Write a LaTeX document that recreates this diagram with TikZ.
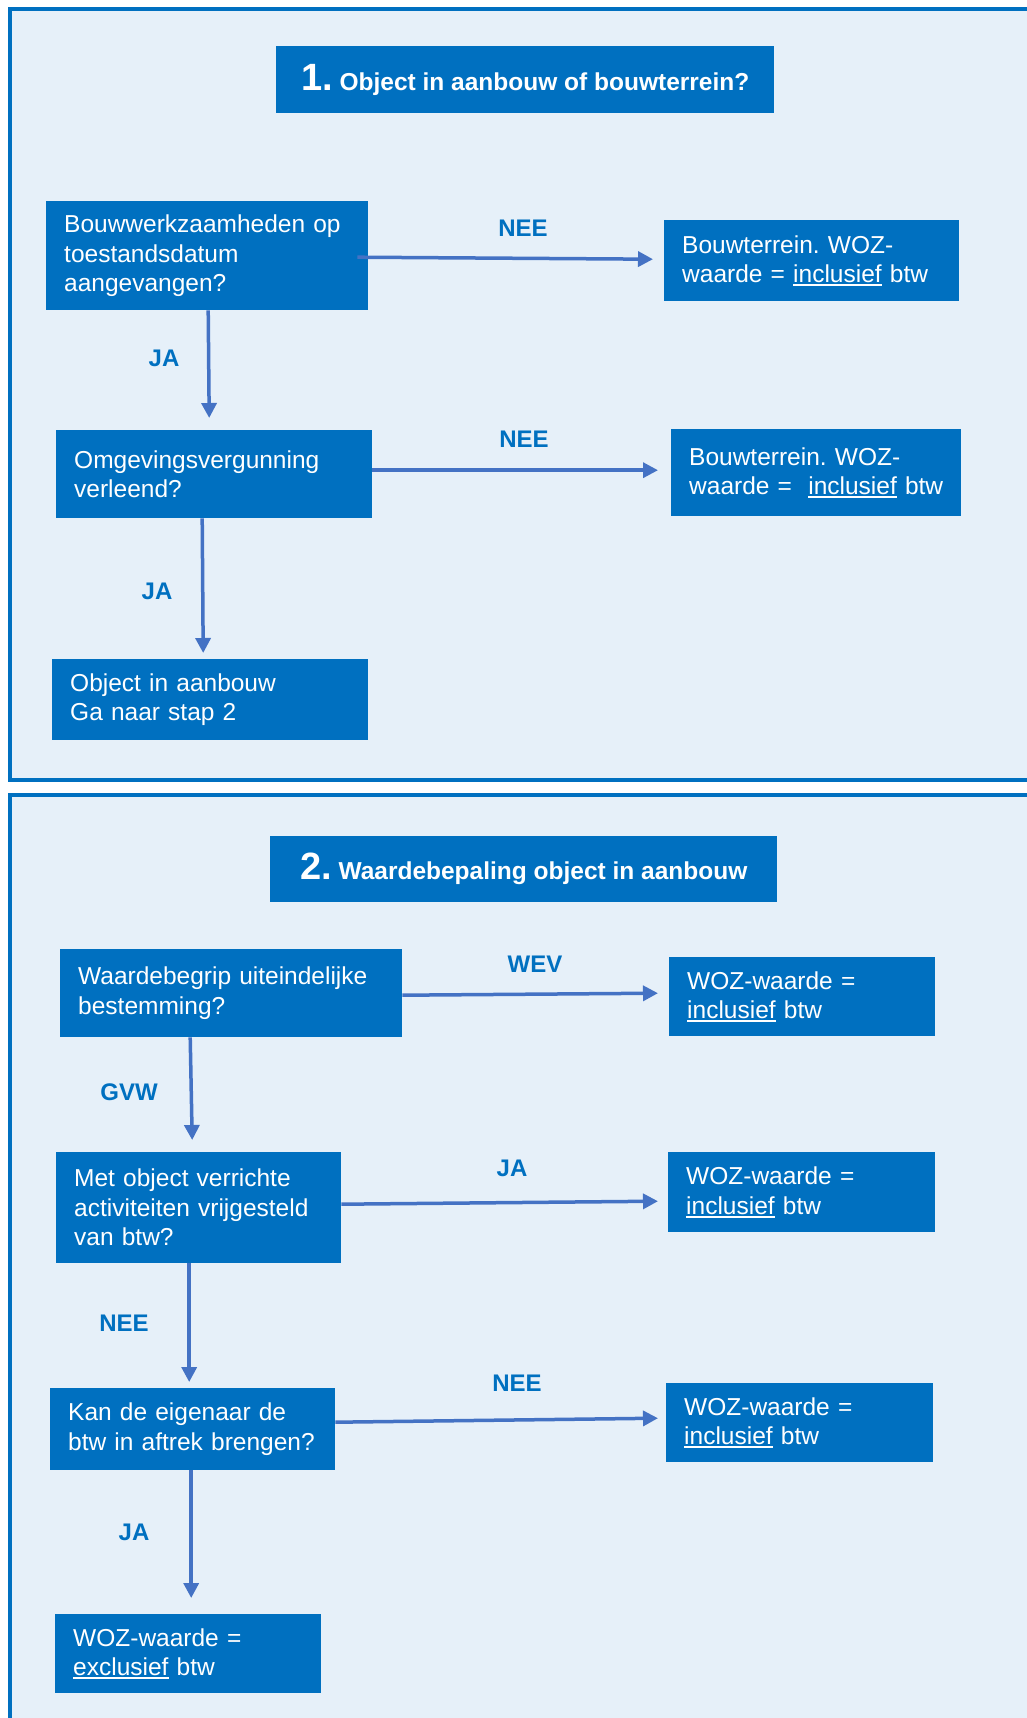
\documentclass[tikz,border=0pt]{standalone}
\usepackage{fontspec}
\setmainfont{Liberation Sans}
\frenchspacing
\usetikzlibrary{arrows.meta,calc}
\definecolor{boxblue}{HTML}{0070C0}
\definecolor{panelbg}{HTML}{E6F0F9}
\definecolor{arrowblue}{HTML}{4472C4}
\definecolor{labelblue}{HTML}{0070C0}
\newsavebox\ulbox
\newcommand\ulin[1]{\leavevmode\sbox\ulbox{#1}\rlap{\rule[-3.5pt]{\wd\ulbox}{1.8pt}}\usebox\ulbox}
\tikzset{
  panel/.style={fill=panelbg,draw=boxblue,line width=4pt},
  stepbox/.style={fill=boxblue,draw=none,text=white,anchor=north west,
    inner xsep=18pt,inner ysep=0pt,align=left,
    font=\fontsize{24.5}{29.5}\selectfont},
  titlebox/.style={fill=boxblue,draw=none,text=white,anchor=north west,
    inner sep=0pt,align=center,font=\fontsize{24.5}{29.5}\selectfont\bfseries},
  lab/.style={text=labelblue,inner sep=0pt,font=\fontsize{24}{28}\selectfont\bfseries},
  arr/.style={draw=arrowblue,line width=3.5pt,-{Triangle[length=15pt,width=15pt]}},
}
\begin{document}
\begin{tikzpicture}[x=1pt,y=-1pt]
\useasboundingbox (0,0) rectangle (1026,1718);
\fill[white] (0,0) rectangle (1026,1718);
% panels
\path[panel] (10,9) rectangle (1040,779.5);
\path[panel] (10,794.5) rectangle (1040,1740);
% titles
\node[titlebox,minimum width=498pt,minimum height=67pt] (t1) at (276,46)
  {{\fontsize{38}{40}\selectfont 1.} Object in aanbouw of bouwterrein?};
\node[titlebox,minimum width=507pt,minimum height=66pt] (t2) at (270,836)
  {{\fontsize{38}{40}\selectfont 2.} Waardebepaling object in aanbouw};
% step 1 boxes
\node[stepbox,text width=286pt,minimum height=109pt] (a) at (46,201)
  {Bouwwerkzaamheden op\\toestandsdatum\\aangevangen?};
\node[stepbox,text width=259pt,minimum height=81pt] (b) at (664,220)
  {Bouwterrein. WOZ-\\waarde = \ulin{inclusief} btw};
\node[stepbox,text width=280pt,minimum height=88pt] (c) at (56,430)
  {Omgevingsvergunning\\verleend?};
\node[stepbox,text width=254pt,minimum height=87pt] (d) at (671,429)
  {Bouwterrein. WOZ-\\waarde = \ \ulin{inclusief} btw};
\node[stepbox,text width=280pt,minimum height=81pt] (e) at (52,659)
  {Object in aanbouw\\Ga naar stap 2};
% step 2 boxes
\node[stepbox,text width=306pt,minimum height=88pt] (f) at (60,949)
  {Waardebegrip uiteindelijke\\bestemming?};
\node[stepbox,text width=230pt,minimum height=79pt] (g) at (669,957)
  {WOZ-waarde =\\\ulin{inclusief} btw};
\node[stepbox,text width=249pt,minimum height=111pt] (h) at (56,1152)
  {Met object verrichte\\activiteiten vrijgesteld\\van btw?};
\node[stepbox,text width=231pt,minimum height=80pt] (i) at (668,1152)
  {WOZ-waarde =\\\ulin{inclusief} btw};
\node[stepbox,text width=249pt,minimum height=82pt] (j) at (50,1388)
  {Kan de eigenaar de\\btw in aftrek brengen?};
\node[stepbox,text width=231pt,minimum height=79pt] (k) at (666,1383)
  {WOZ-waarde =\\\ulin{inclusief} btw};
\node[stepbox,text width=230pt,minimum height=79pt] (l) at (55,1614)
  {WOZ-waarde =\\\ulin{exclusief} btw};
% connectors
\draw[arr] ($(a.east)+(-11,1.5)$) -- ($(b.west)+(-11,-1.5)$);
\draw[arr] ($(a.south)+(1,0)$) -- ($(c.north)+(-5,-12)$);
\draw[arr] ($(c.east)+(0,-4)$) -- ($(d.west)+(-13,-2.5)$);
\draw[arr] ($(c.south)+(-12,0)$) -- ($(e.north)+(-7,-6)$);
\draw[arr] ($(f.east)+(0,2)$) -- ($(g.west)+(-11,-3.5)$);
\draw[arr] ($(f.south)+(-41,0)$) -- ($(h.north)+(-6.5,-12)$);
\draw[arr] ($(h.east)+(0,-3.5)$) -- ($(i.west)+(-10,9)$);
\draw[arr] ($(h.south)+(-9.5,0)$) -- ($(j.north)+(-3.5,-6)$);
\draw[arr] ($(j.east)+(0,-7)$) -- ($(k.west)+(-8,-4.5)$);
\draw[arr] ($(j.south)+(-1.5,0)$) -- ($(l.north)+(3,-16)$);
% labels
\node[lab] (l1) at (523,228) {NEE};
\node[lab] (l2) at (164,358) {JA};
\node[lab] (l3) at (524,439) {NEE};
\node[lab] (l4) at (157,591) {JA};
\node[lab] (l5) at (535,964) {WEV};
\node[lab] (l6) at (129,1092) {GVW};
\node[lab] (l7) at (512,1168) {JA};
\node[lab] (l8) at (124,1323) {NEE};
\node[lab] (l9) at (517,1383) {NEE};
\node[lab] (l10) at (134,1532) {JA};
\end{tikzpicture}
\end{document}
